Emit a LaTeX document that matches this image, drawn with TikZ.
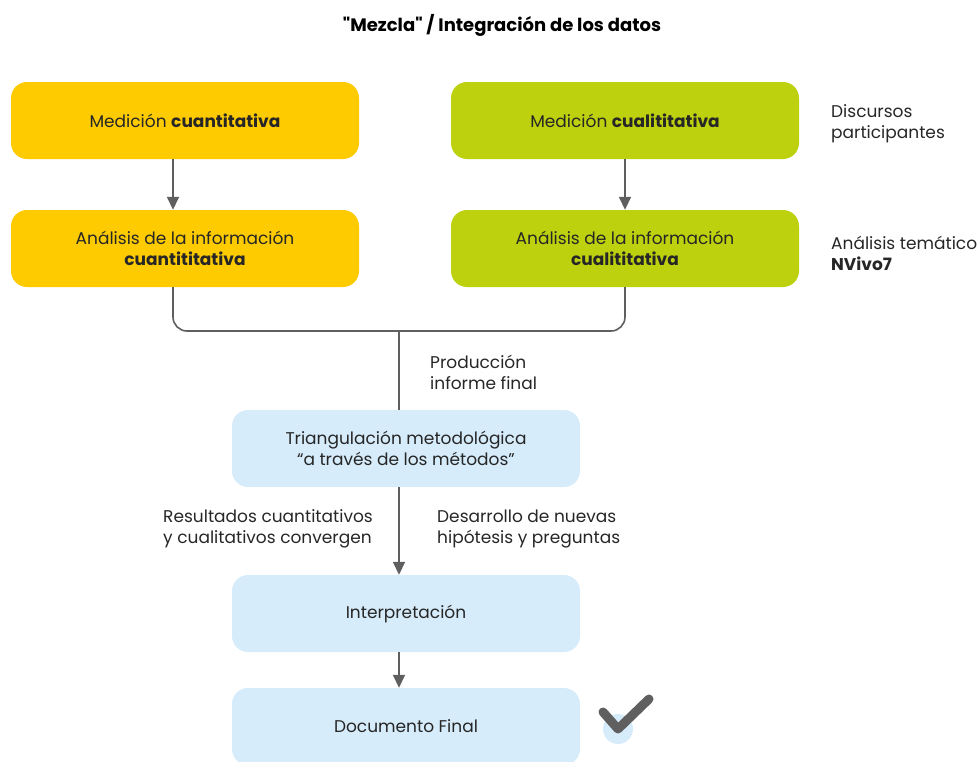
\documentclass[tikz,border=0pt]{standalone}
\usepackage{fontspec}
\setmainfont{Poppins}
\newfontfamily\titulofont{Poppins}[Ligatures=TeXOff]
\usetikzlibrary{arrows.meta}
\definecolor{amarillo}{HTML}{FDCB00}
\definecolor{verde}{HTML}{BDD10E}
\definecolor{celeste}{HTML}{D6ECFB}
\definecolor{gris}{HTML}{5F5F5F}
\begin{document}
\begin{tikzpicture}[x=1pt, y=-1pt, font=\fontsize{17}{21}\selectfont]
  \def\boxw{348pt}
  \def\boxh{77pt}
  \tikzstyle{caja} = [rounded corners=16pt, minimum width=\boxw, minimum height=\boxh, align=center, inner sep=0pt, text=black!85]
  \tikzstyle{nota} = [align=left, anchor=west, inner sep=0pt, text=black!85]
  \tikzstyle{flecha} = [draw=gris, line width=1.6pt, -{Triangle[length=13pt, width=12pt]}]
  \tikzstyle{linea} = [draw=gris, line width=1.6pt]

  \useasboundingbox (0,0) rectangle (979,761);

  \node (titulo) at (502,25) {\titulofont\fontsize{18}{21}\selectfont\textbf{"Mezcla" / Integración de los datos}};

  % columna cuantitativa
  \node[caja, fill=amarillo] (lm) at (185,120.5) {Medición \textbf{cuantitativa}};
  \node[caja, fill=amarillo] (la) at (185,248.5) {Análisis de la información\\\textbf{cuantititativa}};

  % columna cualitativa
  \node[caja, fill=verde] (rm) at (625,120.5) {Medición \textbf{cualititativa}};
  \node[caja, fill=verde] (ra) at (625,248.5) {Análisis de la información\\\textbf{cualititativa}};

  \node[nota] (disc) at (831,124) {Discursos\\participantes};
  \node[nota] (tema) at (831,253) {Análisis temático\\\textbf{NVivo7}};

  \draw[flecha] ([xshift=-12pt]lm.south) -- ([xshift=-12pt]la.north);
  \draw[flecha] (rm.south) -- (ra.north);

  \coordinate (junta) at (399,331);
  \draw[linea, rounded corners=14pt] ([xshift=-12pt]la.south) |- (junta) -| (ra.south);

  % triangulacion
  \node[caja, fill=celeste] (tri) at (406,448.5) {Triangulación metodológica\\“a través de los métodos”};
  \draw[linea] (junta) -- (junta |- tri.north);
  \node[nota] (prod) at (430,372.5) {Producción\\informe final};

  \node[caja, fill=celeste] (inter) at (406,613.5) {Interpretación};
  \draw[flecha] ([xshift=-7pt]tri.south) -- ([xshift=-7pt]inter.north);

  \node[align=left, anchor=east, inner sep=0pt, text=black!85] (res) at (373,528.5) {Resultados cuantitativos\\y cualitativos convergen};
  \node[nota] (desa) at (437,528.5) {Desarrollo de nuevas\\hipótesis y preguntas};

  \node[caja, fill=celeste] (doc) at (406,726.5) {Documento Final};
  \draw[flecha] ([xshift=-7pt]inter.south) -- ([xshift=-7pt]doc.north);

  % marca de verificacion
  \fill[celeste] (618,729) circle (15);
  \draw[gris, line width=9pt, line cap=round, line join=round] (603,712) -- (618,729) -- (649,699);
\end{tikzpicture}
\end{document}
